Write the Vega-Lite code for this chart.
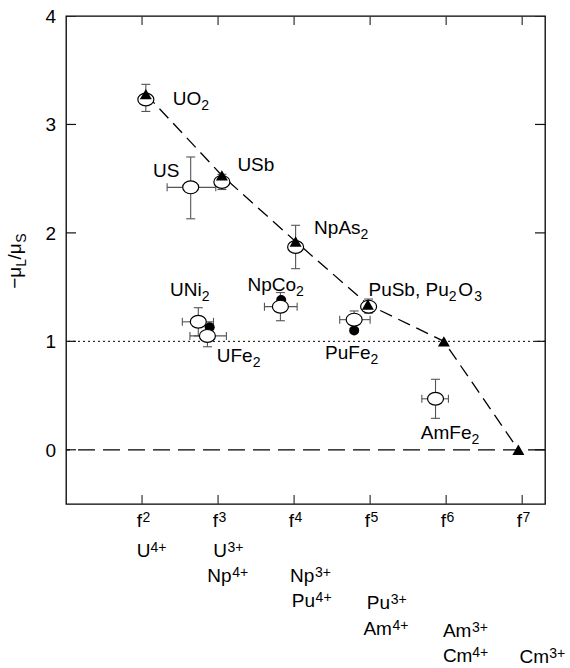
{
  "$schema": "https://vega.github.io/schema/vega-lite/v6.json",
  "width": 479,
  "height": 488,
  "autosize": "none",
  "padding": {"left": 66, "top": 16, "right": 25, "bottom": 164},
  "background": "white",
  "config": {
    "view": {"stroke": "black", "strokeWidth": 1.3},
    "font": "Liberation Sans",
    "text": {"font": "Liberation Sans", "color": "black"}
  },
  "datasets": {
    "zero": [{"mu": 0}],
    "unity": [{"mu": 1}],
    "xticks": [{"n": 2}, {"n": 3}, {"n": 4}, {"n": 5}, {"n": 6}, {"n": 7}],
    "yticks": [{"mu": 0}, {"mu": 1}, {"mu": 2}, {"mu": 3}, {"mu": 4}],
    "theory": [
      {"n": 2.05, "ratio": 3.28},
      {"n": 3.05, "ratio": 2.53},
      {"n": 4.02, "ratio": 1.92},
      {"n": 4.97, "ratio": 1.34},
      {"n": 5.97, "ratio": 1.0},
      {"n": 6.95, "ratio": 0.0}
    ],
    "measured": [
      {"compound": "UO2", "n": 2.05, "ratio": 3.23, "ylo": 3.12, "yhi": 3.37},
      {"compound": "US", "n": 2.64, "ratio": 2.42, "ylo": 2.13, "yhi": 2.7, "xlo": 2.33, "xhi": 2.97},
      {"compound": "USb", "n": 3.05, "ratio": 2.47, "ylo": 2.4, "yhi": 2.54},
      {"compound": "NpAs2", "n": 4.02, "ratio": 1.87, "ylo": 1.67, "yhi": 2.07},
      {"compound": "UNi2", "n": 2.74, "ratio": 1.18, "ylo": 1.05, "yhi": 1.31, "xlo": 2.53, "xhi": 2.94},
      {"compound": "UFe2", "n": 2.86, "ratio": 1.05, "ylo": 0.95, "yhi": 1.15, "xlo": 2.63, "xhi": 3.11},
      {"compound": "NpCo2", "n": 3.82, "ratio": 1.32, "ylo": 1.19, "yhi": 1.45, "xlo": 3.61, "xhi": 4.04},
      {"compound": "PuSb", "n": 4.98, "ratio": 1.32, "ylo": 1.26, "yhi": 1.39},
      {"compound": "PuFe2", "n": 4.79, "ratio": 1.2, "ylo": 1.12, "yhi": 1.28, "xlo": 4.6, "xhi": 5.0},
      {"compound": "AmFe2", "n": 5.86, "ratio": 0.47, "ylo": 0.29, "yhi": 0.65, "xlo": 5.68, "xhi": 6.03}
    ],
    "filled": [
      {"compound": "UFe2", "n": 2.89, "ratio": 1.13},
      {"compound": "NpCo2", "n": 3.83, "ratio": 1.38},
      {"compound": "PuFe2", "n": 4.79, "ratio": 1.1}
    ],
    "annotations": [
      {"text": "UO", "role": "main", "x": 2.404, "y": 3.18},
      {"text": "2", "role": "sub", "x": 2.779, "y": 3.18},
      {"text": "US", "role": "main", "x": 2.145, "y": 2.516},
      {"text": "USb", "role": "main", "x": 3.254, "y": 2.569},
      {"text": "NpAs", "role": "main", "x": 4.263, "y": 1.991},
      {"text": "2", "role": "sub", "x": 4.875, "y": 1.991},
      {"text": "NpCo", "role": "main", "x": 3.386, "y": 1.465},
      {"text": "2", "role": "sub", "x": 4.025, "y": 1.465},
      {"text": "UNi", "role": "main", "x": 2.368, "y": 1.422},
      {"text": "2", "role": "sub", "x": 2.785, "y": 1.422},
      {"text": "UFe", "role": "main", "x": 2.983, "y": 0.808},
      {"text": "2", "role": "sub", "x": 3.455, "y": 0.808},
      {"text": "PuSb, Pu", "role": "main", "x": 4.978, "y": 1.422},
      {"text": "2", "role": "sub", "x": 6.034, "y": 1.422},
      {"text": "O", "role": "main", "x": 6.158, "y": 1.422},
      {"text": "3", "role": "sub", "x": 6.368, "y": 1.422},
      {"text": "PuFe", "role": "main", "x": 4.408, "y": 0.839},
      {"text": "2", "role": "sub", "x": 5.005, "y": 0.839},
      {"text": "AmFe", "role": "main", "x": 5.667, "y": 0.095},
      {"text": "2", "role": "sub", "x": 6.334, "y": 0.095},
      {"text": "f", "role": "main", "x": 1.93, "y": -0.71},
      {"text": "2", "role": "sup", "x": 2.005, "y": -0.71},
      {"text": "f", "role": "main", "x": 2.93, "y": -0.71},
      {"text": "3", "role": "sup", "x": 3.005, "y": -0.71},
      {"text": "f", "role": "main", "x": 3.93, "y": -0.71},
      {"text": "4", "role": "sup", "x": 4.005, "y": -0.71},
      {"text": "f", "role": "main", "x": 4.93, "y": -0.71},
      {"text": "5", "role": "sup", "x": 5.005, "y": -0.71},
      {"text": "f", "role": "main", "x": 5.93, "y": -0.71},
      {"text": "6", "role": "sup", "x": 6.005, "y": -0.71},
      {"text": "f", "role": "main", "x": 6.93, "y": -0.71},
      {"text": "7", "role": "sup", "x": 7.005, "y": -0.71},
      {"text": "U", "role": "main", "x": 1.93, "y": -0.989},
      {"text": "4+", "role": "sup", "x": 2.112, "y": -0.989},
      {"text": "U", "role": "main", "x": 2.938, "y": -0.989},
      {"text": "3+", "role": "sup", "x": 3.125, "y": -0.989},
      {"text": "Np", "role": "main", "x": 2.859, "y": -1.219},
      {"text": "4+", "role": "sup", "x": 3.185, "y": -1.219},
      {"text": "Np", "role": "main", "x": 3.947, "y": -1.219},
      {"text": "3+", "role": "sup", "x": 4.275, "y": -1.219},
      {"text": "Pu", "role": "main", "x": 3.97, "y": -1.45},
      {"text": "4+", "role": "sup", "x": 4.283, "y": -1.45},
      {"text": "Pu", "role": "main", "x": 4.957, "y": -1.465},
      {"text": "3+", "role": "sup", "x": 5.27, "y": -1.465},
      {"text": "Am", "role": "main", "x": 4.912, "y": -1.712},
      {"text": "4+", "role": "sup", "x": 5.295, "y": -1.712},
      {"text": "Am", "role": "main", "x": 5.957, "y": -1.726},
      {"text": "3+", "role": "sup", "x": 6.34, "y": -1.726},
      {"text": "Cm", "role": "main", "x": 5.957, "y": -1.957},
      {"text": "4+", "role": "sup", "x": 6.342, "y": -1.957},
      {"text": "Cm", "role": "main", "x": 6.964, "y": -1.966},
      {"text": "3+", "role": "sup", "x": 7.355, "y": -1.966}
    ],
    "ytitle": [
      {"text": "−μ", "role": "main", "x": 0.408, "y": 1.484},
      {"text": "L", "role": "sub", "x": 0.408, "y": 1.687},
      {"text": "/μ", "role": "main", "x": 0.408, "y": 1.754},
      {"text": "S", "role": "sub", "x": 0.408, "y": 1.908}
    ]
  },
  "layer": [
    {
      "data": {"name": "zero"},
      "mark": {"type": "rule", "color": "black", "strokeWidth": 1.2, "strokeDash": [17, 8]},
      "encoding": {
        "y": {"field": "mu", "type": "quantitative", "scale": {"domain": [-0.5, 4], "nice": false, "zero": false}, "axis": null}
      }
    },
    {
      "data": {"name": "unity"},
      "mark": {"type": "rule", "color": "black", "strokeWidth": 1, "strokeDash": [2, 3]},
      "encoding": {
        "y": {"field": "mu", "type": "quantitative", "scale": {"domain": [-0.5, 4], "nice": false, "zero": false}, "axis": null}
      }
    },
    {
      "data": {"name": "xticks"},
      "mark": {"type": "tick", "orient": "vertical", "color": "#333", "size": 18, "thickness": 1.2, "opacity": 1, "clip": true},
      "encoding": {
        "x": {"field": "n", "type": "quantitative", "scale": {"domain": [1, 7.3], "nice": false, "zero": false}, "axis": null},
        "y": {"datum": -0.5, "type": "quantitative", "scale": {"domain": [-0.5, 4], "nice": false, "zero": false}, "axis": null}
      }
    },
    {
      "data": {"name": "xticks"},
      "mark": {"type": "tick", "orient": "vertical", "color": "#333", "size": 18, "thickness": 1.2, "opacity": 1, "clip": true},
      "encoding": {
        "x": {"field": "n", "type": "quantitative", "scale": {"domain": [1, 7.3], "nice": false, "zero": false}, "axis": null},
        "y": {"datum": 4, "type": "quantitative", "scale": {"domain": [-0.5, 4], "nice": false, "zero": false}, "axis": null}
      }
    },
    {
      "data": {"name": "yticks"},
      "mark": {"type": "tick", "orient": "horizontal", "color": "#111", "size": 20, "thickness": 1.2, "opacity": 1, "clip": true},
      "encoding": {
        "x": {"datum": 1, "type": "quantitative", "scale": {"domain": [1, 7.3], "nice": false, "zero": false}, "axis": null},
        "y": {"field": "mu", "type": "quantitative", "scale": {"domain": [-0.5, 4], "nice": false, "zero": false}, "axis": null}
      }
    },
    {
      "data": {"name": "yticks"},
      "mark": {"type": "tick", "orient": "horizontal", "color": "#111", "size": 20, "thickness": 1.2, "opacity": 1, "clip": true},
      "encoding": {
        "x": {"datum": 7.3, "type": "quantitative", "scale": {"domain": [1, 7.3], "nice": false, "zero": false}, "axis": null},
        "y": {"field": "mu", "type": "quantitative", "scale": {"domain": [-0.5, 4], "nice": false, "zero": false}, "axis": null}
      }
    },
    {
      "data": {"name": "yticks"},
      "mark": {"type": "text", "align": "right", "baseline": "middle", "fontSize": 19, "dx": -10, "dy": 1, "fill": "#000"},
      "encoding": {
        "x": {"datum": 1, "type": "quantitative", "scale": {"domain": [1, 7.3], "nice": false, "zero": false}, "axis": null},
        "y": {"field": "mu", "type": "quantitative", "scale": {"domain": [-0.5, 4], "nice": false, "zero": false}, "axis": null},
        "text": {"field": "mu", "type": "quantitative", "format": "d"}
      }
    },
    {
      "data": {"name": "theory"},
      "mark": {"type": "line", "color": "black", "strokeWidth": 1.3, "strokeDash": [13, 7]},
      "encoding": {
        "x": {"field": "n", "type": "quantitative", "scale": {"domain": [1, 7.3], "nice": false, "zero": false}, "axis": null},
        "y": {"field": "ratio", "type": "quantitative", "scale": {"domain": [-0.5, 4], "nice": false, "zero": false}, "axis": null}
      }
    },
    {
      "data": {"name": "measured"},
      "mark": {"type": "rule", "color": "#555", "strokeWidth": 1.1},
      "encoding": {
        "x": {"field": "n", "type": "quantitative", "scale": {"domain": [1, 7.3], "nice": false, "zero": false}, "axis": null},
        "y": {"field": "ylo", "type": "quantitative", "scale": {"domain": [-0.5, 4], "nice": false, "zero": false}, "axis": null},
        "y2": {"field": "yhi"}
      }
    },
    {
      "data": {"name": "measured"},
      "mark": {"type": "rule", "color": "#555", "strokeWidth": 1.1},
      "encoding": {
        "x": {"field": "xlo", "type": "quantitative", "scale": {"domain": [1, 7.3], "nice": false, "zero": false}, "axis": null},
        "x2": {"field": "xhi"},
        "y": {"field": "ratio", "type": "quantitative", "scale": {"domain": [-0.5, 4], "nice": false, "zero": false}, "axis": null}
      }
    },
    {
      "data": {"name": "measured"},
      "mark": {"type": "tick", "orient": "horizontal", "color": "#555", "size": 9, "thickness": 1.1, "opacity": 1},
      "encoding": {
        "x": {"field": "n", "type": "quantitative", "scale": {"domain": [1, 7.3], "nice": false, "zero": false}, "axis": null},
        "y": {"field": "ylo", "type": "quantitative", "scale": {"domain": [-0.5, 4], "nice": false, "zero": false}, "axis": null}
      }
    },
    {
      "data": {"name": "measured"},
      "mark": {"type": "tick", "orient": "horizontal", "color": "#555", "size": 9, "thickness": 1.1, "opacity": 1},
      "encoding": {
        "x": {"field": "n", "type": "quantitative", "scale": {"domain": [1, 7.3], "nice": false, "zero": false}, "axis": null},
        "y": {"field": "yhi", "type": "quantitative", "scale": {"domain": [-0.5, 4], "nice": false, "zero": false}, "axis": null}
      }
    },
    {
      "data": {"name": "measured"},
      "mark": {"type": "tick", "orient": "vertical", "color": "#555", "size": 8, "thickness": 1.1, "opacity": 1},
      "encoding": {
        "x": {"field": "xlo", "type": "quantitative", "scale": {"domain": [1, 7.3], "nice": false, "zero": false}, "axis": null},
        "y": {"field": "ratio", "type": "quantitative", "scale": {"domain": [-0.5, 4], "nice": false, "zero": false}, "axis": null}
      }
    },
    {
      "data": {"name": "measured"},
      "mark": {"type": "tick", "orient": "vertical", "color": "#555", "size": 8, "thickness": 1.1, "opacity": 1},
      "encoding": {
        "x": {"field": "xhi", "type": "quantitative", "scale": {"domain": [1, 7.3], "nice": false, "zero": false}, "axis": null},
        "y": {"field": "ratio", "type": "quantitative", "scale": {"domain": [-0.5, 4], "nice": false, "zero": false}, "axis": null}
      }
    },
    {
      "data": {"name": "filled"},
      "mark": {"type": "point", "shape": "circle", "filled": true, "color": "black", "size": 100, "opacity": 1},
      "encoding": {
        "x": {"field": "n", "type": "quantitative", "scale": {"domain": [1, 7.3], "nice": false, "zero": false}, "axis": null},
        "y": {"field": "ratio", "type": "quantitative", "scale": {"domain": [-0.5, 4], "nice": false, "zero": false}, "axis": null}
      }
    },
    {
      "data": {"name": "measured"},
      "mark": {"type": "point", "shape": "M-1,0A1,0.8,0,1,1,1,0A1,0.8,0,1,1,-1,0Z", "filled": true, "fill": "white", "stroke": "black", "strokeWidth": 1.2, "size": 256, "opacity": 1},
      "encoding": {
        "x": {"field": "n", "type": "quantitative", "scale": {"domain": [1, 7.3], "nice": false, "zero": false}, "axis": null},
        "y": {"field": "ratio", "type": "quantitative", "scale": {"domain": [-0.5, 4], "nice": false, "zero": false}, "axis": null}
      }
    },
    {
      "data": {"name": "theory"},
      "mark": {"type": "point", "shape": "triangle-up", "filled": true, "color": "black", "size": 144, "opacity": 1},
      "encoding": {
        "x": {"field": "n", "type": "quantitative", "scale": {"domain": [1, 7.3], "nice": false, "zero": false}, "axis": null},
        "y": {"field": "ratio", "type": "quantitative", "scale": {"domain": [-0.5, 4], "nice": false, "zero": false}, "axis": null}
      }
    },
    {
      "data": {"name": "annotations"},
      "transform": [{"filter": "datum.role === 'main'"}],
      "mark": {"type": "text", "align": "left", "baseline": "alphabetic", "fontSize": 19, "fill": "#000"},
      "encoding": {
        "x": {"field": "x", "type": "quantitative", "scale": {"domain": [1, 7.3], "nice": false, "zero": false}, "axis": null},
        "y": {"field": "y", "type": "quantitative", "scale": {"domain": [-0.5, 4], "nice": false, "zero": false}, "axis": null},
        "text": {"field": "text"}
      }
    },
    {
      "data": {"name": "annotations"},
      "transform": [{"filter": "datum.role === 'sub'"}],
      "mark": {"type": "text", "align": "left", "baseline": "alphabetic", "fontSize": 14, "dy": 5, "fill": "#000"},
      "encoding": {
        "x": {"field": "x", "type": "quantitative", "scale": {"domain": [1, 7.3], "nice": false, "zero": false}, "axis": null},
        "y": {"field": "y", "type": "quantitative", "scale": {"domain": [-0.5, 4], "nice": false, "zero": false}, "axis": null},
        "text": {"field": "text"}
      }
    },
    {
      "data": {"name": "annotations"},
      "transform": [{"filter": "datum.role === 'sup'"}],
      "mark": {"type": "text", "align": "left", "baseline": "alphabetic", "fontSize": 14, "dy": -5, "fill": "#000"},
      "encoding": {
        "x": {"field": "x", "type": "quantitative", "scale": {"domain": [1, 7.3], "nice": false, "zero": false}, "axis": null},
        "y": {"field": "y", "type": "quantitative", "scale": {"domain": [-0.5, 4], "nice": false, "zero": false}, "axis": null},
        "text": {"field": "text"}
      }
    },
    {
      "data": {"name": "ytitle"},
      "transform": [{"filter": "datum.role === 'main'"}],
      "mark": {"type": "text", "align": "left", "baseline": "alphabetic", "fontSize": 19, "angle": 270, "fill": "#000"},
      "encoding": {
        "x": {"field": "x", "type": "quantitative", "scale": {"domain": [1, 7.3], "nice": false, "zero": false}, "axis": null},
        "y": {"field": "y", "type": "quantitative", "scale": {"domain": [-0.5, 4], "nice": false, "zero": false}, "axis": null},
        "text": {"field": "text"}
      }
    },
    {
      "data": {"name": "ytitle"},
      "transform": [{"filter": "datum.role === 'sub'"}],
      "mark": {"type": "text", "align": "left", "baseline": "alphabetic", "fontSize": 14, "angle": 270, "dy": 5, "fill": "#000"},
      "encoding": {
        "x": {"field": "x", "type": "quantitative", "scale": {"domain": [1, 7.3], "nice": false, "zero": false}, "axis": null},
        "y": {"field": "y", "type": "quantitative", "scale": {"domain": [-0.5, 4], "nice": false, "zero": false}, "axis": null},
        "text": {"field": "text"}
      }
    }
  ]
}
